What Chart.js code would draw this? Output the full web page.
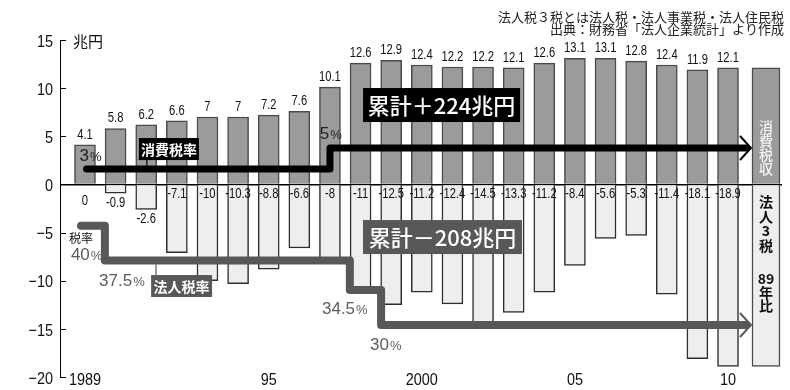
<!DOCTYPE html>
<html>
<head>
<meta charset="utf-8">
<script src="https://cdn.jsdelivr.net/npm/chart.js@4.4.1/dist/chart.umd.min.js"></script>
<style>
  html, body { margin: 0; padding: 0; background: #fff; }
  canvas { display: block; }
</style>
</head>
<body>
<canvas id="grafico" width="790" height="390"></canvas>
<script>
// 年度 (1989-2010)
const years = [1989, 1990, 1991, 1992, 1993, 1994, 1995, 1996, 1997, 1998, 1999,
  2000, 2001, 2002, 2003, 2004, 2005, 2006, 2007, 2008, 2009, 2010];
// 消費税収 (兆円)
const consumptionTax = [4.1, 5.8, 6.2, 6.6, 7, 7, 7.2, 7.6, 10.1, 12.6, 12.9,
  12.4, 12.2, 12.2, 12.1, 12.6, 13.1, 13.1, 12.8, 12.4, 11.9, 12.1];
// 法人3税 89年比 (兆円)
const corporateDiff = [0, -0.9, -2.6, -7.1, -10, -10.3, -8.8, -6.6, -8, -11, -12.5,
  -11.2, -12.4, -14.5, -13.3, -11.2, -8.4, -5.6, -5.3, -11.4, -18.1, -18.9];
// 凡例の列
const legendX = [2011.24];
const legendTop = [12.1];
const legendBottom = [-18.9];
// 税率の線 (グラフ上の位置)
const consRateX = [1989.05, 1997.0, 1997.0, 2010.6];
const consRateY = [1.6, 1.6, 3.78, 3.78];
const corpRateX = [1988.87, 1989.65, 1989.65, 1997.65, 1997.65, 1998.67, 1998.67, 2010.6];
const corpRateY = [-4.3, -4.3, -7.9, -7.9, -10.96, -10.96, -14.6, -14.6];
// 目盛り
const xTickValues = [1989, 1995, 2000, 2005, 2010];
const xTickLabels = ['1989', '95', '2000', '05', '10'];
const yTickValues = [15, 10, 5, 0, -5, -10, -15, -20];

const NUM = '"Liberation Sans", Arial, sans-serif';
const JP = '"Noto Sans CJK JP", "Noto Sans", sans-serif';
const DARK = '#9b9b9b', LIGHT = '#edeeed', CORP = '#585858';

const xy = (xs, ys) => xs.map((v, i) => ({ x: v, y: ys[i] }));

const overlay = {
  id: 'overlay',
  afterDatasetsDraw(chart) {
    const { ctx, scales: { x, y } } = chart;
    const px = v => x.getPixelForValue(v);
    const py = v => y.getPixelForValue(v);
    const zero = py(0);
    ctx.save();

    // 長体の文字
    const narrow = (text, tx, ty, align, sx) => {
      ctx.save();
      ctx.translate(tx, ty);
      ctx.scale(sx, 1);
      ctx.textAlign = align;
      ctx.textBaseline = 'middle';
      ctx.fillText(text, 0, 0);
      ctx.restore();
    };

    // 値ラベル
    ctx.fillStyle = '#111';
    ctx.font = '14px ' + NUM;
    years.forEach((yr, i) => {
      narrow(String(consumptionTax[i]), px(yr), py(consumptionTax[i]) - 10, 'center', 0.8);
      const v = corporateDiff[i];
      const ty = v > -5 ? Math.max(py(v), zero + 7) + 10 : zero + 10;
      narrow(v === 0 ? '0' : '-' + Math.abs(v), px(yr), ty, 'center', 0.8);
    });

    // 軸ラベル
    ctx.font = '17px ' + NUM;
    yTickValues.forEach(v => {
      narrow(String(v).replace('-', '−'), px(x.min) - 7, py(v) + 2, 'right', 0.85);
    });
    xTickValues.forEach((v, i) => {
      narrow(xTickLabels[i], px(v), py(y.min) + 3, 'center', 0.85);
    });

    // 矢印
    const chevron = (xTip, yv, color) => {
      ctx.strokeStyle = color;
      ctx.lineWidth = 2;
      ctx.lineJoin = 'miter';
      ctx.beginPath();
      ctx.moveTo(px(xTip) - 11, py(yv) - 12);
      ctx.lineTo(px(xTip), py(yv));
      ctx.lineTo(px(xTip) - 11, py(yv) + 12);
      ctx.stroke();
    };
    chevron(2010.75, consRateY[consRateY.length - 1], '#000');
    chevron(2010.75, corpRateY[corpRateY.length - 1], CORP);

    // 箱付きラベル
    const box = (x1, y1, x2, y2, bg, text, size, weight) => {
      ctx.fillStyle = bg;
      ctx.fillRect(px(x1), py(y1), px(x2) - px(x1), py(y2) - py(y1));
      ctx.fillStyle = '#fff';
      ctx.font = weight + ' ' + size + 'px ' + JP;
      ctx.textAlign = 'center';
      ctx.textBaseline = 'middle';
      ctx.fillText(text, (px(x1) + px(x2)) / 2, (py(y1) + py(y2)) / 2 + 1);
    };
    box(1998.08, 10.01, 2003.21, 6.48, '#000', '累計＋224兆円', 22, '500');
    box(1998.08, -3.7, 2003.27, -7.23, CORP, '累計－208兆円', 22, '500');
    box(1990.76, 4.82, 1992.72, 2.53, '#000', '消費税率', 14, '700');
    box(1991.16, -9.41, 1993.15, -11.69, CORP, '法人税率', 14, '700');
    ctx.lineWidth = 1.2;
    ctx.strokeStyle = '#000';
    ctx.beginPath();
    ctx.moveTo(px(1991.02), py(2.53));
    ctx.lineTo(px(1991.02), py(1.9));
    ctx.stroke();
    ctx.strokeStyle = CORP;
    ctx.beginPath();
    ctx.moveTo(px(1991.32), py(-8.3));
    ctx.lineTo(px(1991.32), py(-9.41));
    ctx.stroke();

    // パーセント
    const pct = (xv, yv, num, color, size) => {
      ctx.fillStyle = color;
      ctx.textAlign = 'left';
      ctx.textBaseline = 'middle';
      ctx.font = size + 'px ' + NUM;
      const w = ctx.measureText(num).width;
      ctx.fillText(num, px(xv), py(yv));
      ctx.font = Math.round(size * 0.75) + 'px ' + NUM;
      ctx.fillText('%', px(xv) + w + 1, py(yv) + 1);
    };
    pct(1988.82, 2.9, '3', '#222', 17);
    pct(1996.67, 5.2, '5', '#222', 17);
    pct(1988.54, -7.33, '40', '#5c5c5c', 17);
    pct(1989.46, -10.03, '37.5', '#5c5c5c', 17);
    pct(1996.74, -12.94, '34.5', '#5c5c5c', 17);
    pct(1998.31, -16.67, '30', '#5c5c5c', 17);

    ctx.fillStyle = '#111';
    ctx.font = '12px ' + JP;
    ctx.textAlign = 'left';
    ctx.fillText('税率', px(1988.48), py(-5.57));
    ctx.font = '15px ' + JP;
    ctx.fillText('兆円', px(1988.61), py(14.89));

    // 凡例列の縦書き
    const lx = px(legendX[0]);
    ctx.textAlign = 'center';
    ctx.font = '500 14px ' + JP;
    ctx.fillStyle = '#f4f4f4';
    ['消', '費', '税', '収'].forEach((c, i) => ctx.fillText(c, lx, 127 + i * 14));
    ctx.fillStyle = '#111';
    ctx.font = '700 14px ' + JP;
    ['法', '人', '3', '税'].forEach((c, i) => ctx.fillText(c, lx, 202 + i * 14.5));
    ['89', '年', '比'].forEach((c, i) => ctx.fillText(c, lx, 279 + i * 13.5));

    // 注記
    ctx.fillStyle = '#222';
    ctx.font = '13px ' + JP;
    ctx.textAlign = 'right';
    ctx.fillText('法人税３税とは法人税・法人事業税・法人住民税', 784, 17);
    ctx.fillText('出典：財務省「法人企業統計」より作成', 784, 29);

    // 内向きの目盛り
    ctx.strokeStyle = '#000';
    ctx.lineWidth = 1;
    yTickValues.forEach(v => {
      ctx.beginPath();
      ctx.moveTo(px(x.min), Math.round(py(v)) + 0.5);
      ctx.lineTo(px(x.min) + 6, Math.round(py(v)) + 0.5);
      ctx.stroke();
    });
    ctx.restore();
  }
};

const ctx = document.getElementById('grafico').getContext('2d');
new Chart(ctx, {
  type: 'bar',
  data: {
    datasets: [
      {
        type: 'line', data: xy(consRateX, consRateY), borderColor: '#000', borderWidth: 7,
        pointRadius: 0, borderJoinStyle: 'round', borderCapStyle: 'round', order: 0
      },
      {
        type: 'line', data: xy(corpRateX, corpRateY), borderColor: CORP, borderWidth: 8,
        pointRadius: 0, borderJoinStyle: 'round', borderCapStyle: 'round', order: 0
      },
      {
        data: xy(years, consumptionTax), backgroundColor: DARK, borderColor: '#4a4a4a',
        borderWidth: 1.5, barThickness: 21, grouped: false, order: 1
      },
      {
        data: xy(years, corporateDiff), backgroundColor: LIGHT, borderColor: '#2e2e2e',
        borderWidth: 1.5, barThickness: 21, grouped: false, order: 1
      },
      {
        data: xy(legendX, legendTop), backgroundColor: DARK, borderColor: '#4a4a4a',
        borderWidth: 1.5, barThickness: 28, grouped: false, order: 1
      },
      {
        data: xy(legendX, legendBottom), backgroundColor: LIGHT, borderColor: '#4a4a4a',
        borderWidth: 1.5, barThickness: 28, grouped: false, order: 1
      }
    ]
  },
  options: {
    responsive: false,
    animation: false,
    layout: { padding: { top: 40, right: 8, bottom: 13, left: 0 } },
    plugins: { legend: { display: false }, tooltip: { enabled: false } },
    scales: {
      x: {
        type: 'linear',
        display: false,
        min: 1988.184,
        max: 2011.763,
        offset: false
      },
      y: {
        min: -20,
        max: 15,
        afterBuildTicks: s => { s.ticks = yTickValues.map(v => ({ value: v })); },
        afterFit: s => { s.width = 60; },
        grid: {
          drawTicks: false,
          color: c => c.tick && c.tick.value === 0 ? '#000' : 'rgba(0,0,0,0)',
          lineWidth: 1.5
        },
        border: { display: true, color: '#000', width: 1 },
        ticks: { display: false }
      }
    }
  },
  plugins: [overlay]
});
</script>
</body>
</html>
